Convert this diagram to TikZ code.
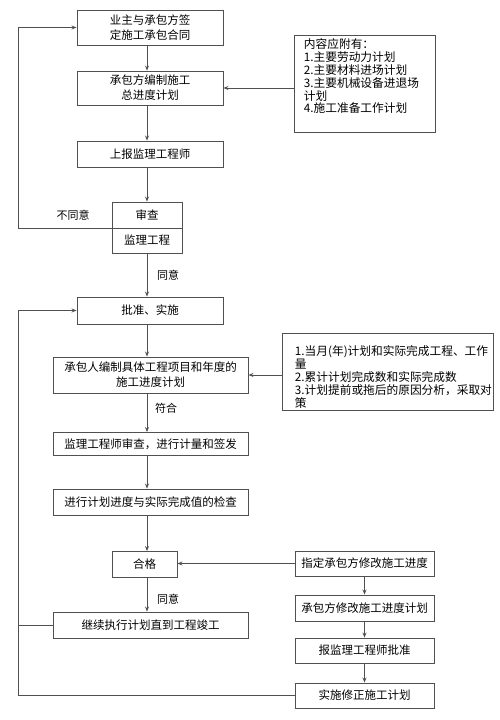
\documentclass[tikz,border=0pt]{standalone}
\usepackage{fontspec}
\setmainfont{Noto Sans CJK SC}
\usetikzlibrary{arrows.meta}
\definecolor{linegray}{HTML}{505050}

\tikzset{
  box/.style={draw=linegray, line width=0.9pt, align=center, inner sep=0pt,
    font=\fontsize{11.5}{15}\selectfont},
  note/.style={draw=linegray, line width=0.9pt, align=left, inner sep=0pt,
    anchor=north west, font=\fontsize{11.7}{12.8}\selectfont},
  lbl/.style={font=\fontsize{11}{13}\selectfont},
  conn/.style={draw=linegray, line width=0.9pt}
}

\begin{document}
\begin{tikzpicture}[x=1pt, y=-1pt, >={Stealth[length=5pt,width=4pt]}]
    \useasboundingbox (0,0) rectangle (500,720);
    \coordinate (lx) at (18,0);
    %Contract and master schedule
    \node[box, minimum width=146, minimum height=35] (b1) at (150,27.5) {业主与承包方签\\定施工承包合同};
    \node[box, minimum width=146, minimum height=34] (b2) at (150,88) {承包方编制施工\\总进度计划};
    \node[box, minimum width=146, minimum height=26] (b3) at (150,154) {上报监理工程师};
    \node[note, minimum width=141, minimum height=97] (nt1) at (294,35)
      {\hspace{8pt}\parbox[t][90pt][t]{130pt}{\vspace{0pt}内容应附有：\\1.主要劳动力计划\\2.主要材料进场计划\\3.主要机械设备进退场\\计划\\4.施工准备工作计划}};
    %Review
    \node[box, minimum width=70, minimum height=26] (sc) at (147,215) {审查};
    \node[box, minimum width=70, minimum height=25] (jl) at (147,240.5) {监理工程};
    \node[box, minimum width=146, minimum height=27] (p1) at (150,310.5) {批准、实施};
    %Annual schedule and checks
    \node[box, minimum width=195, minimum height=36] (p2) at (150.5,375) {承包人编制具体工程项目和年度的\\施工进度计划};
    \node[note, minimum width=211, minimum height=77] (nt2) at (282,333)
      {\hspace{12pt}\parbox[t][70pt][t]{198pt}{\vspace{9pt}1.当月(年)计划和实际完成工程、工作\\量\\2.累计计划完成数和实际完成数\\3.计划提前或拖后的原因分析，采取对\\策}};
    \node[box, minimum width=195, minimum height=23] (p3) at (150.5,444) {监理工程师审查，进行计量和签发};
    \node[box, minimum width=195, minimum height=26] (p4) at (150.5,502) {进行计划进度与实际完成值的检查};
    \node[box, minimum width=65, minimum height=26] (hg) at (144.5,564.5) {合格};
    \node[box, minimum width=195, minimum height=26] (l4) at (150.5,625) {继续执行计划直到工程竣工};
    %Revision column
    \node[box, minimum width=139, minimum height=25] (r1) at (364.5,563.5) {指定承包方修改施工进度};
    \node[box, minimum width=139, minimum height=26] (r2) at (364.5,608) {承包方修改施工进度计划};
    \node[box, minimum width=139, minimum height=25] (r3) at (364.5,650.5) {报监理工程师批准};
    \node[box, minimum width=139, minimum height=25] (r4) at (364.5,695.5) {实施修正施工计划};
    %Labels
    \node[lbl] (t1) at (73,215) {不同意};
    \node[lbl] (t2) at (168,275) {同意};
    \node[lbl] (t3) at (166,408) {符合};
    \node[lbl] (t4) at (168,599) {同意};
    %Main spine
    \draw[conn,->] (b1.south -| sc) -- (b2.north -| sc);
    \draw[conn,->] (b2.south -| sc) -- (b3.north -| sc);
    \draw[conn,->] (b3.south -| sc) -- (sc.north);
    \draw[conn,->] (jl.south) -- (p1.north -| sc);
    \draw[conn,->] (p1.south -| sc) -- (p2.north -| sc);
    \draw[conn,->] (p2.south -| sc) -- (p3.north -| sc);
    \draw[conn,->] (p3.south -| sc) -- (p4.north -| sc);
    \draw[conn,->] (p4.south -| sc) -- (hg.north -| sc);
    \draw[conn,->] (hg.south -| sc) -- (l4.north -| sc);
    %Notes
    \draw[conn,->] (nt1.west |- b2) -- (b2.east);
    \draw[conn,->] (nt2.west |- p2) -- (p2.east);
    %Revision
    \draw[conn,->] (r1.west) -- (hg.east |- r1);
    \draw[conn,->] (r1.south) -- (r2.north);
    \draw[conn,->] (r2.south) -- (r3.north);
    \draw[conn,->] (r3.south) -- (r4.north);
    %Loops
    \draw[conn,->] (sc.south west) -- (sc.south west -| lx) |- (b1.west);
    \draw[conn,->] (r4.west) -- (r4.west -| lx) |- (p1.west);
    \draw[conn] (l4.west) -- (l4.west -| lx);
\end{tikzpicture}
\end{document}
